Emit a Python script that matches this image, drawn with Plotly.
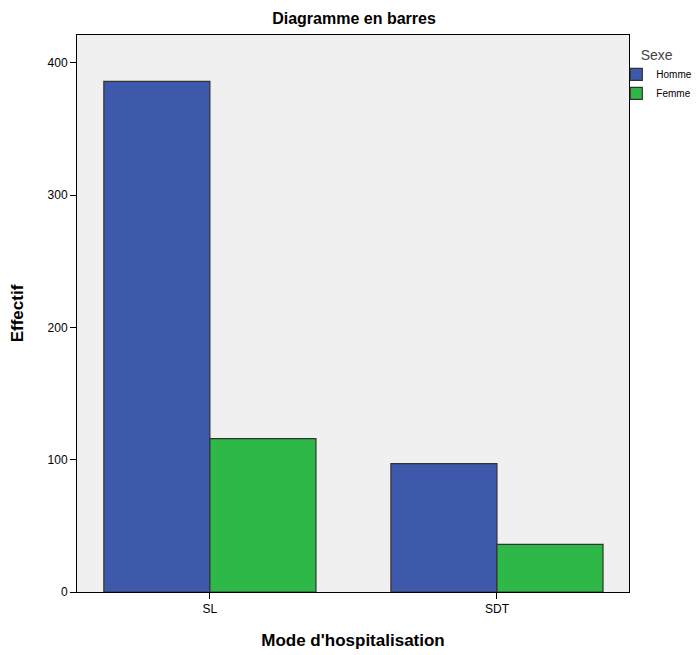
import plotly.graph_objects as go

categories = ["SL", "SDT"]
homme = [386, 97]
femme = [116, 36]
y_ticks = [0, 100, 200, 300, 400]

fig = go.Figure()

fig.add_trace(go.Bar(
    x=categories,
    y=homme,
    name="Homme",
    marker=dict(color="#3e58ac", line=dict(color="#333333", width=1.2)),
))
fig.add_trace(go.Bar(
    x=categories,
    y=femme,
    name="Femme",
    marker=dict(color="#2eb848", line=dict(color="#333333", width=1.2)),
))

# the page body adds an 8px offset, so the figure is 8px smaller than the window
fig.update_layout(
    width=692,
    height=647,
    barmode="group",
    bargap=0.261,
    bargroupgap=0,
    plot_bgcolor="#f0f0f0",
    paper_bgcolor="white",
    font=dict(family="Liberation Sans, Arial, sans-serif", size=12, color="black"),
    margin=dict(l=69, r=71, t=27, b=63, autoexpand=False),
    title=dict(
        text="<b>Diagramme en barres</b>",
        x=0.5, xanchor="center",
        y=0.984, yanchor="middle",
        font=dict(size=16, color="black"),
    ),
    legend=dict(
        title=dict(text="Sexe", side="top center", font=dict(size=14, color="#444444")),
        x=0.977, xanchor="left",
        y=0.988, yanchor="top",
        font=dict(size=10),
        bgcolor="rgba(0,0,0,0)",
        itemwidth=30,
        tracegroupgap=0,
    ),
    showlegend=True,
)

fig.update_xaxes(
    title=dict(text="<b>Mode d'hospitalisation</b>", font=dict(size=17), standoff=18),
    range=[-0.463, 1.46],
    automargin=False,
    showline=True, linecolor="black", linewidth=1, mirror=True,
    ticks="outside", ticklen=6, tickcolor="black",
    showgrid=False, zeroline=False,
)
fig.update_yaxes(
    title=dict(text="<b>Effectif</b>", font=dict(size=17), standoff=19),
    range=[0, 421],
    tickvals=y_ticks,
    automargin=False,
    showline=True, linecolor="black", linewidth=1, mirror=True,
    ticks="outside", ticklen=6, tickcolor="black",
    showgrid=False, zeroline=False,
)

fig.write_html("out.html")
